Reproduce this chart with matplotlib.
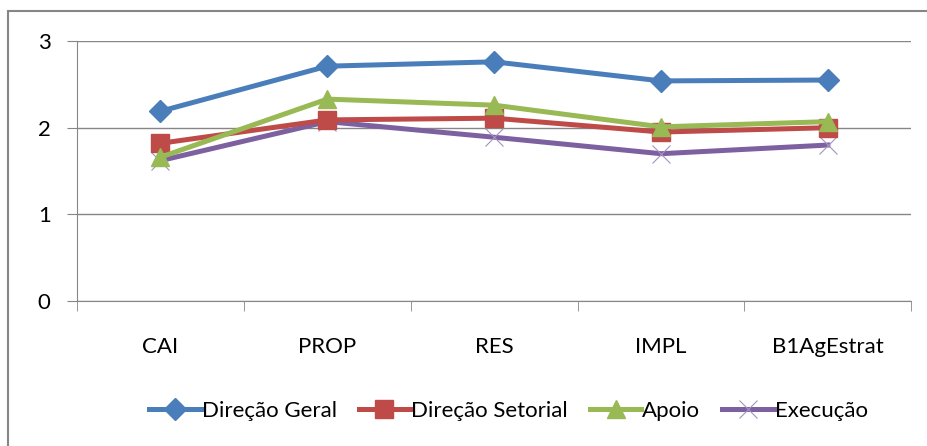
import numpy as np
import matplotlib
matplotlib.use('Agg')
import matplotlib.pyplot as plt
from matplotlib.lines import Line2D

plt.rcParams['font.family'] = ['Lato', 'DejaVu Sans']

categories = ['CAI', 'PROP', 'RES', 'IMPL', 'B1AgEstrat']
direcao_geral = [2.19, 2.71, 2.76, 2.54, 2.55]
direcao_setorial = [1.82, 2.09, 2.11, 1.95, 2.00]
apoio = [1.66, 2.33, 2.26, 2.01, 2.07]
execucao = [1.62, 2.07, 1.89, 1.70, 1.80]
labels = ['Direção Geral', 'Direção Setorial', 'Apoio', 'Execução']

fig = plt.figure(figsize=(9.28, 4.46), dpi=100)
ax = fig.add_axes([0.083, 0.325, 0.899, 0.583])

# outer chart border
fig.patches.append(plt.Rectangle((8/928, -0.05), 1.0, 1 - 11/446 + 0.05,
                                 transform=fig.transFigure, fill=False,
                                 ec='#868686', lw=1.5, zorder=0))

x = np.arange(len(categories))
lw = 3.6
ax.plot(x, direcao_geral, c='#4A7EBB', lw=lw, marker='D', ms=11,
        mfc='#4A7EBB', mec='#4A7EBB', zorder=5)
ax.plot(x, direcao_setorial, c='#BE4B48', lw=lw, marker='s', ms=13,
        mfc='#BE4B48', mec='#BE4B48', zorder=4)
ax.plot(x, apoio, c='#98B954', lw=lw, marker='^', ms=13,
        mfc='#98B954', mec='#98B954', zorder=4)
ax.plot(x, execucao, c='#7D60A0', lw=lw, zorder=3)
ax.plot(x, execucao, ls='none', marker='x', ms=13, mew=0.8,
        mec='#A493C0', zorder=3)

ax.set_xlim(-0.5, 4.5)
ax.set_ylim(0, 3)
ax.set_yticks([0, 1, 2, 3])
ax.set_xticks(x)
ax.set_xticklabels(categories)
ax.set_xticks(np.arange(-0.5, 5, 1), minor=True)
ax.tick_params(axis='x', which='major', length=0, pad=26, labelsize=16)
ax.tick_params(axis='x', which='minor', length=7, color='#868686', direction='out')
ax.tick_params(axis='y', length=7, color='#868686', labelsize=16, pad=12)
ax.grid(axis='y', color='#868686', lw=1)
ax.set_axisbelow(True)
for s in ['top', 'right']:
    ax.spines[s].set_visible(False)
for s in ['left', 'bottom']:
    ax.spines[s].set_color('#868686')

handles = [
    Line2D([], [], c='#4A7EBB', lw=lw, marker='D', ms=11),
    Line2D([], [], c='#BE4B48', lw=lw, marker='s', ms=13),
    Line2D([], [], c='#98B954', lw=lw, marker='^', ms=13),
    Line2D([], [], c='#7D60A0', lw=lw, marker='x', ms=13, mew=0.8, mec='#A493C0'),
]
fig.legend(handles, labels, loc='center', bbox_to_anchor=(0.548, 0.078), ncol=4,
           frameon=False, fontsize=16, handlelength=2.3, handletextpad=0.05,
           columnspacing=1.0)

fig.savefig('out.png', dpi=100)
